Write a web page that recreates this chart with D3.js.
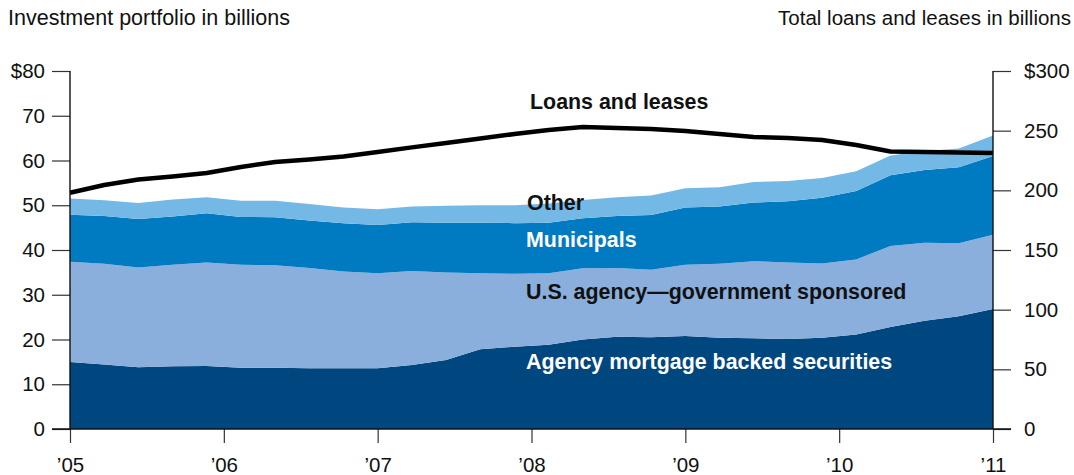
<!DOCTYPE html>
<html>
<head>
<meta charset="utf-8">
<script src="https://cdn.jsdelivr.net/npm/d3@7"></script>
<style>
  body { margin: 0; background: #fff; }
  svg { display: block; font-family: "Liberation Sans", Arial, Helvetica, sans-serif; }
</style>
</head>
<body>
<svg id="chart" width="1074" height="475"></svg>
<script>
// quarterly observations, '05 through '11 (28 points)
const periodCount = 28;
const yearTicks = [2005, 2006, 2007, 2008, 2009, 2010, 2011];
const leftTicks = [0, 10, 20, 30, 40, 50, 60, 70, 80];
const rightTicks = [0, 50, 100, 150, 200, 250, 300];

// investment portfolio components, billions
const mortgage = [15.0, 14.4, 13.8, 14.0, 14.1, 13.7, 13.7, 13.6, 13.6, 13.6, 14.3, 15.4, 17.8, 18.4,
                  18.8, 20.0, 20.6, 20.5, 20.8, 20.4, 20.3, 20.1, 20.4, 21.1, 22.8, 24.2, 25.2, 26.8];
const usAgency = [22.4, 22.5, 22.3, 22.7, 23.1, 23.0, 22.9, 22.4, 21.6, 21.2, 21.0, 19.6, 17.0, 16.3,
                  16.0, 15.9, 15.4, 15.1, 15.9, 16.5, 17.2, 17.1, 16.6, 16.8, 18.1, 17.4, 16.3, 16.6];
const municipals = [10.5, 10.7, 10.8, 10.8, 11.0, 10.7, 10.7, 10.6, 10.8, 10.8, 10.9, 11.1, 11.3, 11.3,
                    11.3, 11.2, 11.6, 12.2, 12.8, 12.8, 13.1, 13.7, 14.7, 15.3, 15.8, 16.3, 17.0, 17.6];
const other = [3.6, 3.5, 3.6, 3.8, 3.6, 3.6, 3.7, 3.7, 3.5, 3.5, 3.5, 3.8, 3.9, 4.0,
               4.3, 4.1, 4.2, 4.4, 4.3, 4.3, 4.6, 4.5, 4.4, 4.4, 4.4, 4.2, 4.2, 4.6];

// total loans and leases, billions (right axis)
const loans = [198, 204.5, 209, 211.6, 214.5, 219.6, 223.7, 225.8, 228.4, 232.1, 236, 239.7, 243.4, 247.2,
               250.6, 253, 252.2, 251.4, 249.7, 247.2, 244.7, 243.8, 242.1, 238, 232.5, 232.1, 231.7, 231.3];

const seriesKeys = ["mortgage", "usAgency", "municipals", "other"];
const seriesColors = {mortgage: "#00467f", usAgency: "#8aafdc", municipals: "#007bc2", other: "#74b9e6"};

const svg = d3.select("#chart");

const plotLeft = 70, plotRight = 993, plotTop = 71, plotBottom = 429;

const x = d3.scaleLinear().domain([2005, 2011]).range([plotLeft, plotRight]);
const yL = d3.scaleLinear().domain([0, 80]).range([plotBottom, plotTop]);
const yR = d3.scaleLinear().domain([0, 300]).range([plotBottom, plotTop]);

// build table
const table = d3.range(periodCount).map(i => ({
    t: 2005 + i * 6 / (periodCount - 1),
    mortgage: mortgage[i],
    usAgency: usAgency[i],
    municipals: municipals[i],
    other: other[i],
    loans: loans[i]
}));

const stacked = d3.stack().keys(seriesKeys)(table);

const area = d3.area()
    .x(d => x(d.data.t))
    .y0(d => yL(d[0]))
    .y1(d => yL(d[1]));

svg.append("g").selectAll("path")
    .data(stacked)
    .enter()
    .append("path")
    .attr("d", area)
    .attr("fill", d => seriesColors[d.key]);

// loans line
svg.append("path")
    .datum(table)
    .attr("d", d3.line().x(d => x(d.t)).y(d => yR(d.loans)))
    .attr("fill", "none")
    .attr("stroke", "#000")
    .attr("stroke-width", 4.5)
    .attr("stroke-linejoin", "round");

// axes
const leftAxis = svg.append("g")
    .attr("transform", `translate(${plotLeft},0)`)
    .call(d3.axisLeft(yL).tickValues(leftTicks).tickSize(18).tickPadding(7)
        .tickFormat(d => d === 80 ? "$80" : d));
const rightAxis = svg.append("g")
    .attr("transform", `translate(${plotRight},0)`)
    .call(d3.axisRight(yR).tickValues(rightTicks).tickSize(18).tickPadding(13)
        .tickFormat(d => d === 300 ? "$300" : d));
const bottomAxis = svg.append("g")
    .attr("transform", `translate(0,${plotBottom})`)
    .call(d3.axisBottom(x).tickValues(yearTicks).tickSize(14).tickPadding(14)
        .tickFormat(d => "\u2019" + String(d).slice(2)));

[leftAxis, rightAxis, bottomAxis].forEach(g => {
    g.select(".domain").remove();
    g.selectAll(".tick line").attr("stroke", "#333").attr("stroke-width", 1.2);
    g.selectAll(".tick text").attr("fill", "#111").style("font-size", "20.5px");
});

// axis spines
svg.append("line").attr("x1", plotLeft).attr("x2", plotLeft).attr("y1", plotTop).attr("y2", plotBottom)
    .attr("stroke", "#111").attr("stroke-width", 1.4);
svg.append("line").attr("x1", plotRight).attr("x2", plotRight).attr("y1", plotTop).attr("y2", plotBottom)
    .attr("stroke", "#111").attr("stroke-width", 1.4);
svg.append("line").attr("x1", plotLeft - 18).attr("x2", plotRight + 18).attr("y1", plotBottom).attr("y2", plotBottom)
    .attr("stroke", "#111").attr("stroke-width", 1.4);

// titles
svg.append("text").attr("x", 8).attr("y", 25).text("Investment portfolio in billions")
    .style("font-size", "21.5px").attr("fill", "#111");
svg.append("text").attr("x", 1071).attr("y", 25).attr("text-anchor", "end")
    .text("Total loans and leases in billions")
    .style("font-size", "20.5px").attr("fill", "#111");

// series labels
const labels = [
    {text: "Loans and leases", x: 530, y: 109, color: "#111"},
    {text: "Other", x: 527, y: 210, color: "#111"},
    {text: "Municipals", x: 526, y: 247, color: "#fff"},
    {text: "U.S. agency\u2014government sponsored", x: 526, y: 299, color: "#111"},
    {text: "Agency mortgage backed securities", x: 526, y: 369, color: "#fff"}
];
svg.append("g").selectAll("text")
    .data(labels)
    .enter()
    .append("text")
    .attr("x", d => d.x)
    .attr("y", d => d.y)
    .attr("fill", d => d.color)
    .style("font-size", "21.4px")
    .style("font-weight", "bold")
    .text(d => d.text);
</script>
</body>
</html>
